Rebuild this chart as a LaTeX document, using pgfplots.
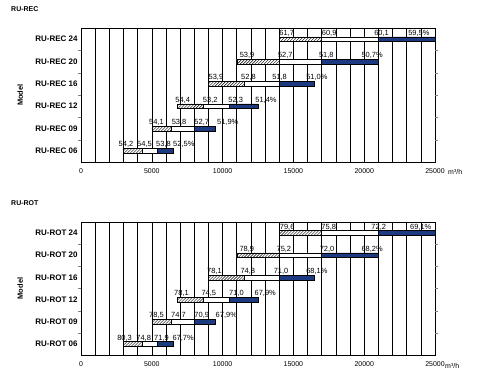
\documentclass[border=0pt]{standalone}
\usepackage{pgfplots}
\pgfplotsset{compat=1.18}
\usepackage{pgfplotstable}
\usetikzlibrary{patterns}
\usepackage{fontspec}
\setmainfont{Liberation Sans}
\definecolor{barblue}{RGB}{28,58,130}

% bar boundaries: start, end of hatched, end of white, end of blue (m3/h)
\pgfplotstableread{
y s h w b
0 3000 4300 5400 6500
1 5000 6400 8000 9500
2 6800 8600 10500 12500
3 9000 11500 14000 16500
4 11000 14000 17000 21000
5 14000 17000 21000 25000
}\recbars
\pgfplotstableread{
y s h w b
0 3000 4300 5400 6500
1 5000 6400 8000 9500
2 6800 8600 10500 12500
3 9000 11500 14000 16500
4 11000 14000 17000 21000
5 14000 17000 21000 25000
}\rotbars

\pgfplotstableread{
y x l
0 2650 54,2
0 3950 54,5
0 5300 53,8
0 6500 52,5\%
1 4800 54,1
1 6400 53,8
1 8000 52,7
1 9600 51,9\%
2 6650 54,4
2 8600 53,2
2 10400 52,3
2 12300 51,4\%
3 9000 53,9
3 11300 52,8
3 13500 51,8
3 15900 51,0\%
4 11200 53,9
4 13900 52,7
4 16800 51,8
4 19800 50,7\%
5 14000 61,7
5 17000 60,9
5 20700 60,1
5 23100 59,5\%
}\reclabels

\pgfplotstableread{
y x l
0 2550 80,3
0 3900 74,8
0 5150 71,9
0 6450 67,7\%
1 4800 78,5
1 6350 74,7
1 8000 70,9
1 9500 67,9\%
2 6570 78,1
2 8500 74,5
2 10450 71,0
2 12250 67,9\%
3 8900 78,1
3 11250 74,8
3 13600 71,0
3 15900 68,1\%
4 11180 78,9
4 13800 75,2
4 16850 72,0
4 19800 68,2\%
5 14030 79,6
5 16970 75,8
5 20500 72,2
5 23230 69,1\%
}\rotlabels

\pgfplotsset{
  base/.style={scale only axis, width=354bp, height=134bp,
    xmin=0, xmax=25000, ymin=-0.5, ymax=5.5},
  barax/.style={base, xbar stacked, bar width=4.8bp, clip mode=individual,
    xtick={0,5000,...,25000}, minor xtick={1000,2000,...,24000},
    xmajorgrids, xminorgrids,
    grid style={black, line width=0.55bp},
    minor grid style={black, line width=0.55bp},
    major tick length=0pt, minor tick length=0pt,
    ytick={0,...,5},
    extra y ticks={0.5,1.5,2.5,3.5,4.5},
    extra y tick labels={},
    extra y tick style={major tick length=2.5bp, tick align=outside, ymajorgrids=false},
    axis line style={line width=0.6bp},
    scaled x ticks=false,
    xticklabel style={font=\fontsize{7}{8}\selectfont, yshift=-3.5bp},
    yticklabel style={font=\bfseries\fontsize{8}{9}\selectfont},
    /pgf/number format/1000 sep={},
    /pgf/number format/assume math mode=true,
    ylabel={Model},
    every axis y label/.style={at={(axis description cs:-0.172,0.5)}, anchor=center, rotate=90, font=\bfseries\fontsize{7.5}{8}\selectfont},
    title style={at={(axis description cs:-0.207,1.10)}, anchor=west, font=\bfseries\fontsize{7}{8}\selectfont},
  },
  lblax/.style={base, hide axis, clip=false},
  lblplot/.style={draw=none, mark=none, nodes near coords, point meta=explicit symbolic,
    every node near coord/.append style={anchor=south west, inner sep=0pt, yshift=2.7bp, font=\fontsize{7.5}{8}\selectfont}},
  hatchbar/.style={draw=black, line width=0.5bp, fill=white, postaction={pattern=north east lines}},
  whitebar/.style={draw=black, line width=0.5bp, fill=white},
  bluebar/.style={draw=black, line width=0.5bp, fill=barblue},
}

\begin{document}
\begin{tikzpicture}
\path (0,0) rectangle (483bp,376bp);

% ---------------- RU-REC ----------------
\begin{axis}[barax, at={(81bp,214bp)}, anchor=south west,
  title={RU-REC},
  yticklabels={RU-REC 06,RU-REC 09,RU-REC 12,RU-REC 16,RU-REC 20,RU-REC 24}]
\addplot[draw=none, fill=none] table[y=y, x=s] {\recbars};
\addplot[hatchbar] table[y=y, x expr=\thisrow{h}-\thisrow{s}] {\recbars};
\addplot[whitebar] table[y=y, x expr=\thisrow{w}-\thisrow{h}] {\recbars};
\addplot[bluebar] table[y=y, x expr=\thisrow{b}-\thisrow{w}] {\recbars};
\end{axis}
\node[anchor=west, inner sep=0pt, font=\fontsize{7}{8}\selectfont] at (448bp,204bp) {m³/h};
\begin{axis}[lblax, at={(81bp,214bp)}, anchor=south west]
\addplot[lblplot] table[x=x, y=y, meta=l] {\reclabels};
\end{axis}

% ---------------- RU-ROT ----------------
\begin{axis}[barax, at={(81bp,21bp)}, anchor=south west, height=133bp,
  title={RU-ROT},
  yticklabels={RU-ROT 06,RU-ROT 09,RU-ROT 12,RU-ROT 16,RU-ROT 20,RU-ROT 24}]
\addplot[draw=none, fill=none] table[y=y, x=s] {\rotbars};
\addplot[hatchbar] table[y=y, x expr=\thisrow{h}-\thisrow{s}] {\rotbars};
\addplot[whitebar] table[y=y, x expr=\thisrow{w}-\thisrow{h}] {\rotbars};
\addplot[bluebar] table[y=y, x expr=\thisrow{b}-\thisrow{w}] {\rotbars};
\end{axis}
\node[anchor=west, inner sep=0pt, font=\fontsize{7}{8}\selectfont] at (445bp,10bp) {m³/h};
\begin{axis}[lblax, at={(81bp,21bp)}, anchor=south west, height=133bp]
\addplot[lblplot] table[x=x, y=y, meta=l] {\rotlabels};
\end{axis}
\end{tikzpicture}
\end{document}
